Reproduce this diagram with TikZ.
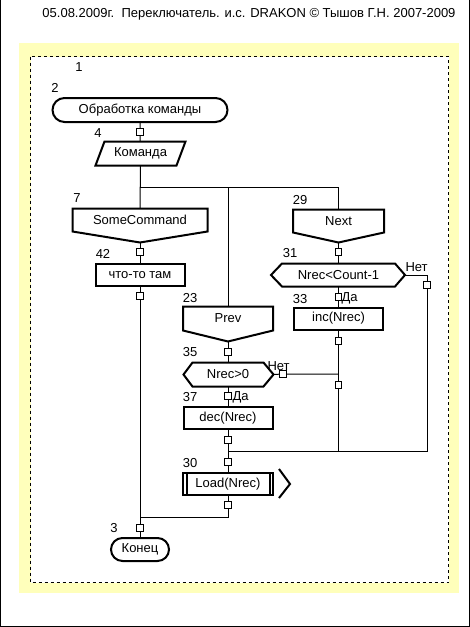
\documentclass[tikz,border=0pt]{standalone}
\usepackage{fontspec}
\setmainfont{Liberation Sans}
\definecolor{band}{RGB}{255,255,187}

\begin{document}
\begin{tikzpicture}[x=1pt,y=-1pt,line width=1pt,
  font=\fontsize{13}{15}\selectfont,
  box/.style={line width=2pt},
  term/.style={draw,box,rounded corners=11.5pt,minimum height=23pt,inner sep=0pt},
  act/.style={draw,box,minimum height=22pt,inner sep=0pt},
  txt/.style={minimum height=22pt,inner sep=0pt},
  port/.style={draw,fill=white,line width=1pt,minimum size=6.5pt,inner sep=0pt},
  num/.style={inner sep=0pt,anchor=base}]
\useasboundingbox (0,0) rectangle (470,627);

%page frame and title
\draw (0.5,0) -- (0.5,626.5) -- (469.5,626.5) -- (469.5,0);
\node[num,anchor=base east] (title) at (456,17) {05.08.2009г.\ \ Переключатель. и.с. DRAKON © Тышов Г.Н. 2007-2009};
\fill[band] (19,43) rectangle (459,593);
\filldraw[fill=white,dash pattern=on 3pt off 3pt] (30.5,56.5) rectangle (448.5,582.5);

%icon numbers
\node[num] (n1) at (79,71) {1};
\node[num] (n2) at (55,92) {2};
\node[num] (n4) at (98,137) {4};
\node[num] (n7) at (77,202) {7};
\node[num] (n42) at (103,258) {42};
\node[num] (n23) at (190,302) {23};
\node[num] (n35) at (190,356) {35};
\node[num] (n37) at (190,401) {37};
\node[num] (n30) at (190,467) {30};
\node[num] (n3) at (114,532) {3};
\node[num] (n29) at (300,204) {29};
\node[num] (n31) at (290,257) {31};
\node[num] (n33) at (300,303) {33};

%left column
\node[term,minimum width=175pt,minimum height=24pt,rounded corners=12pt] (start) at (140,110) {Обработка команды};
\node[txt,minimum width=80pt,minimum height=23pt] (cmd) at (140.5,153.5) {Команда};
\draw[box] ([xshift=-4.5pt]cmd.south west) -- ([xshift=4.5pt]cmd.north west) -- ([xshift=4.5pt]cmd.north east) -- ([xshift=-4.5pt]cmd.south east) -- cycle;
\node[txt,minimum width=134pt] (sc) at (140,220) {SomeCommand};
\coordinate (sc-tip) at ([yshift=-11pt]sc.south);
\draw[box] (sc.south west) -- (sc.north west) -- (sc.north east) -- (sc.south east) -- (sc-tip) -- cycle;
\node[act,minimum width=89pt] (act1) at (140,275) {что-то там};
\node[term,minimum width=58pt] (end) at (140,549.5) {Конец};

%middle column
\node[txt,minimum width=89pt,minimum height=23pt] (prev) at (228,318.5) {Prev};
\coordinate (prev-tip) at ([yshift=-11pt]prev.south);
\draw[box] (prev.south west) -- (prev.north west) -- (prev.north east) -- (prev.south east) -- (prev-tip) -- cycle;
\node[txt,minimum width=70pt,minimum height=23pt] (q1) at (228,374.5) {Nrec>0};
\coordinate (q1-tip) at ([xshift=10pt]q1.east);
\draw[box] (q1.north west) -- (q1.north east) -- (q1-tip) -- (q1.south east) -- (q1.south west) -- ([xshift=-9pt]q1.west) -- cycle;
\node[act,minimum width=89pt] (act2) at (228,418) {dec(Nrec)};
\node[act,minimum width=90pt] (ins) at (228,484) {Load(Nrec)};
\draw[box] ([xshift=4.5pt]ins.north west) -- ([xshift=4.5pt]ins.south west);
\draw[box] ([xshift=-4.5pt]ins.north east) -- ([xshift=-4.5pt]ins.south east);
\draw[box] ([xshift=5pt,yshift=3pt]ins.north east) -- ([xshift=16pt]ins.east) -- ([xshift=5pt,yshift=-2pt]ins.south east);

%right column
\node[txt,minimum width=90pt] (next) at (338.5,221) {Next};
\coordinate (next-tip) at ([yshift=-10pt]next.south);
\draw[box] (next.south west) -- (next.north west) -- (next.north east) -- (next.south east) -- (next-tip) -- cycle;
\node[txt,minimum width=112pt] (q2) at (338.5,275) {Nrec<Count-1};
\coordinate (q2-tip) at ([xshift=10pt]q2.east);
\draw[box] (q2.north west) -- (q2.north east) -- (q2-tip) -- (q2.south east) -- (q2.south west) -- ([xshift=-11pt]q2.west) -- cycle;
\node[act,minimum width=89pt] (act3) at (338.5,318.5) {inc(Nrec)};

%yes / no
\node[num,anchor=base west] (da1) at (341,301) {Да};
\node[num,anchor=base west] (da2) at (232,400) {Да};
\node[num,anchor=base west] (net2) at (405,271) {Нет};
\node[num,anchor=base west] (net1) at (267,370) {Нет};

%junctions
\coordinate (fork) at (140,187);
\coordinate (forkb) at (228,187);
\coordinate (ja) at (140,517);
\coordinate (jb) at (228,451);
\coordinate (jc) at (338.5,451);
\coordinate (jq) at (338.5,374);

%ports
\node[port] (p4) at (140,132) {};
\node[port] (p42) at (140,252) {};
\node[port] (p42b) at (140,296) {};
\node[port] (p3) at (140,528) {};
\node[port] (p35) at (228,352) {};
\node[port] (p35n) at (283,374) {};
\node[port] (p37) at (228,396) {};
\node[port] (p37b) at (228,440) {};
\node[port] (p30) at (228,462) {};
\node[port] (p30b) at (228,505) {};
\node[port] (p31) at (338.5,252) {};
\node[port] (p31n) at (427,285) {};
\node[port] (p33) at (338.5,297) {};
\node[port] (p33b) at (338.5,341) {};
\node[port] (p38) at (338.5,385) {};

%lines
\draw (start) -- (p4) -- (cmd);
\draw (cmd) -- (sc);
\draw (fork) -| (next);
\draw (forkb) -- (prev);
\draw (sc-tip) -- (p42) -- (act1);
\draw (act1) -- (p42b) -- (p3) -- (end);
\draw (prev-tip) -- (p35) -- (q1);
\draw (q1) -- (p37) -- (act2);
\draw (q1-tip) -- (p35n) -- (jq);
\draw (act2) -- (p37b) -- (p30) -- (ins);
\draw (ins) -- (p30b) |- (ja);
\draw (next-tip) -- (p31) -- (q2);
\draw (q2) -- (p33) -- (act3);
\draw (act3) -- (p33b) -- (p38) -- (jc);
\draw (q2-tip) -| (p31n) |- (jb);

\end{tikzpicture}
\end{document}
